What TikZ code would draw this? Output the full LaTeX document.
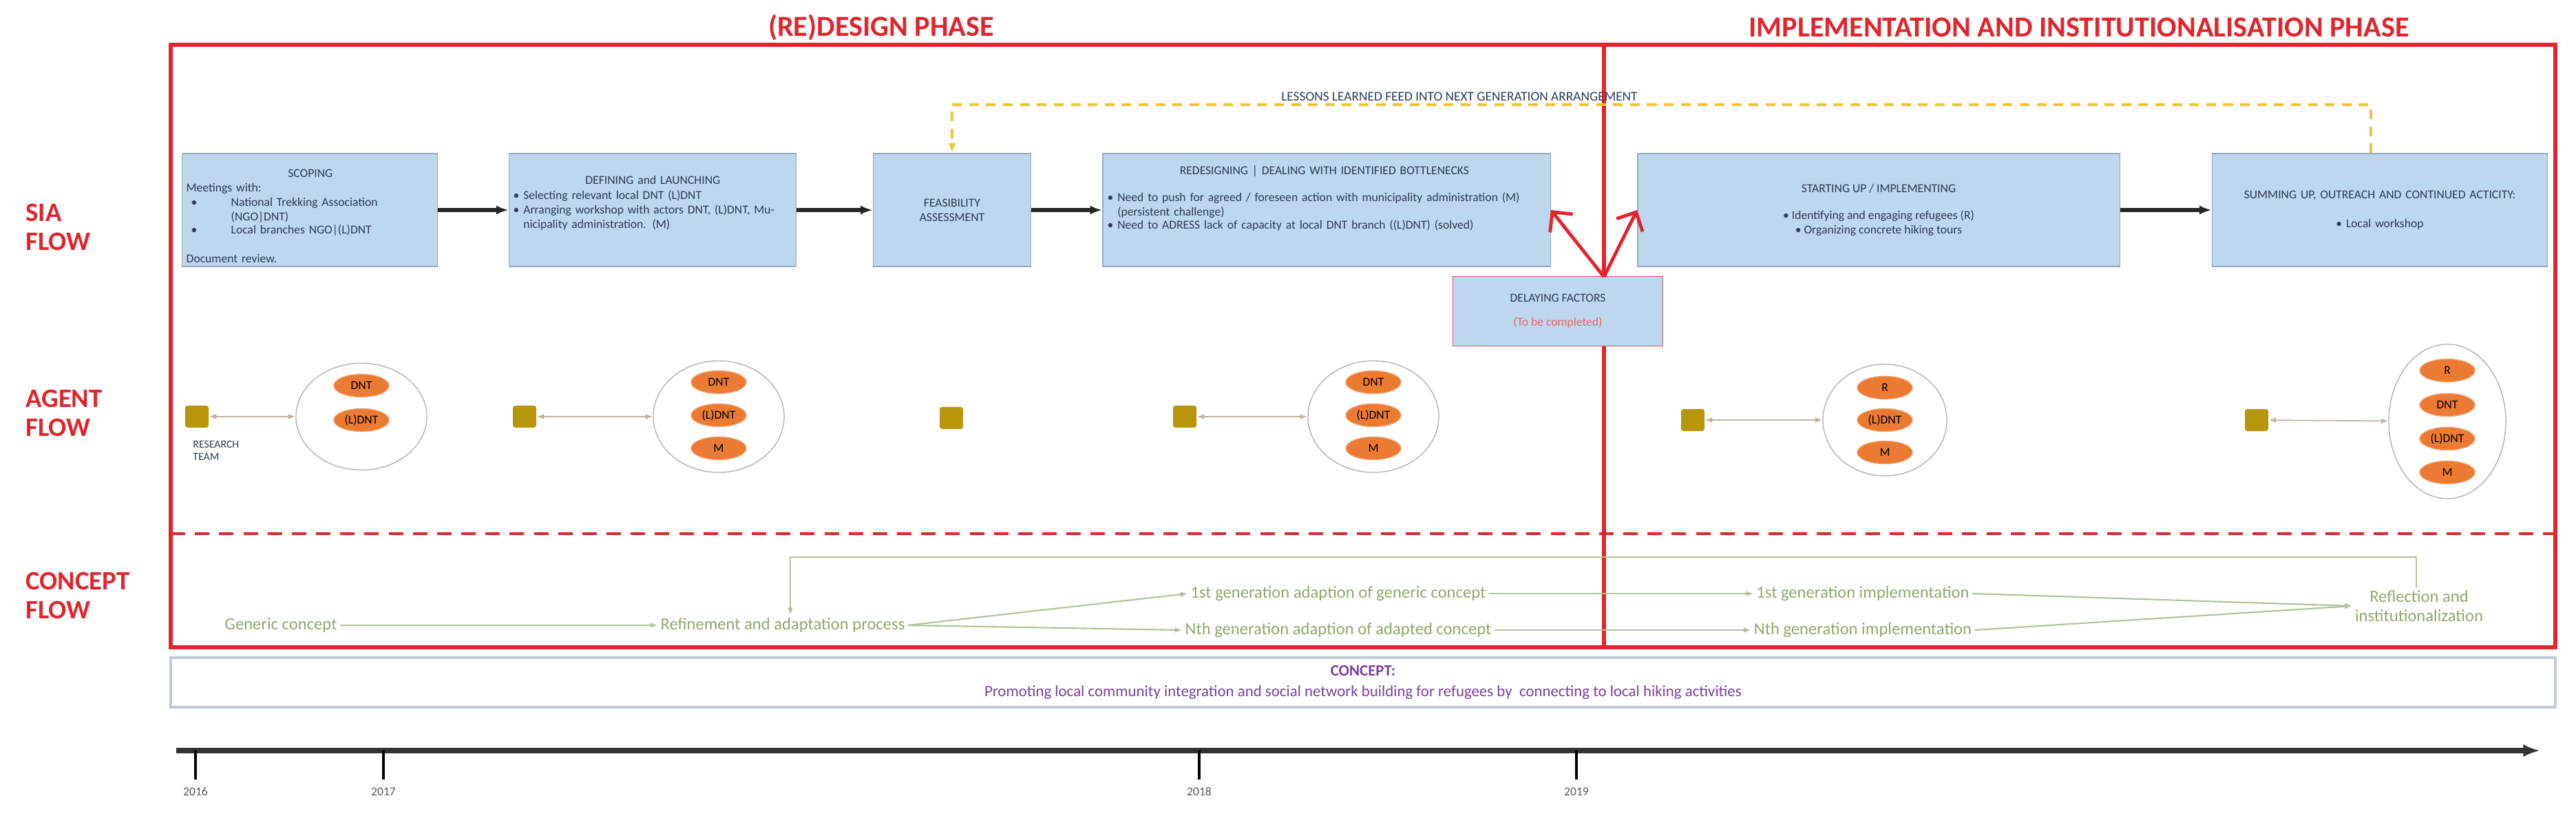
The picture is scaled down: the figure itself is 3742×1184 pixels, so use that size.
\documentclass[tikz,border=0pt]{standalone}
\usepackage{fontspec}
\setmainfont{Carlito}
\usetikzlibrary{arrows.meta,shapes.geometric}
\definecolor{boxfill}{HTML}{BDD7EE}
\definecolor{boxdraw}{HTML}{95A9C2}
\definecolor{boxtext}{HTML}{2E3B55}
\definecolor{phasered}{HTML}{E0252C}
\definecolor{cgreen}{HTML}{8FA86A}
\definecolor{orangeA}{HTML}{EB7A32}
\definecolor{sqcol}{HTML}{B8960C}
\definecolor{purp}{HTML}{7B3FA0}
\definecolor{yel}{HTML}{F2C230}
\tikzset{
  sia/.style={draw=boxdraw,fill=boxfill,text=boxtext,inner sep=0pt,font=\fontsize{5}{6}\selectfont},
  siatxt/.style={text=boxtext,inner sep=0pt,font=\fontsize{5}{6}\selectfont,anchor=north west,align=left},
  flowarr/.style={line width=1.6pt,-{Latex[length=5pt]},black!85},
  lbl/.style={text=phasered,font=\fontsize{11}{12}\selectfont\bfseries,align=left,anchor=west},
  phase/.style={text=phasered,font=\fontsize{12}{13}\selectfont\bfseries},
  big/.style={draw=gray!60,ellipse,inner sep=0pt},
  ag/.style={fill=orangeA,draw=orangeA!70!white,ellipse,minimum width=0.8cm,minimum height=0.33cm,inner sep=0pt,font=\fontsize{5}{6}\selectfont},
  sq/.style={fill=sqcol,rounded corners=1pt,minimum width=0.34cm,minimum height=0.32cm,inner sep=0pt},
  agarr/.style={draw=brown!40!gray!60,line width=0.5pt,{Latex[length=3pt]}-{Latex[length=3pt]}},
  ct/.style={text=cgreen,font=\fontsize{7}{8}\selectfont,inner sep=1pt},
  carr/.style={draw=cgreen!70,line width=0.6pt,-{Latex[length=3pt]}},
}
\begin{document}
\begin{tikzpicture}[x=0.01cm,y=-0.01cm]
\useasboundingbox (0,0) rectangle (3742,1184);
% phase frames
\draw[phasered,line width=1.6pt] (248,65) rectangle (2330,940);
\draw[phasered,line width=1.6pt] (2330,65) rectangle (3712,940);
\draw[phasered,line width=1.2pt,dash pattern=on 6pt off 4pt] (248,775) -- (3712,775);
\node[phase] (t1) at (1280,40) {(RE)DESIGN PHASE};
\node[phase] (t2) at (3020,40) {IMPLEMENTATION AND INSTITUTIONALISATION PHASE};
% row labels
\node[lbl] (l1) at (25,330) {SIA\\FLOW};
\node[lbl] (l2) at (25,600) {AGENT\\FLOW};
\node[lbl] (l3) at (25,865) {CONCEPT\\FLOW};
% SIA boxes
\node[sia,minimum width=3.71cm,minimum height=1.64cm] (b1) at (450,305) {};
\node[siatxt,text width=3.6cm] at (270,245) {\centering SCOPING\par\raggedright Meetings with:\par
\hspace*{2pt}\textbullet\hspace{14pt}\parbox[t]{2.8cm}{National Trekking Association (NGO|DNT)}\par
\hspace*{2pt}\textbullet\hspace{14pt}\parbox[t]{2.8cm}{Local branches NGO|(L)DNT}\par\vspace{6pt}
Document review.};
\node[sia,minimum width=4.17cm,minimum height=1.64cm] (b2) at (948,305) {};
\node[siatxt,text width=4.05cm] at (745,255) {\centering DEFINING and LAUNCHING\par\raggedright
\textbullet\ Selecting relevant local DNT (L)DNT\par
\textbullet\ \parbox[t]{3.7cm}{Arranging workshop with actors DNT, (L)DNT, Municipality administration. (M)}};
\node[sia,minimum width=2.29cm,minimum height=1.64cm,align=center] (b3) at (1383,305) {FEASIBILITY\\ASSESSMENT};
\node[sia,minimum width=6.5cm,minimum height=1.64cm] (b4) at (1927,305) {};
\node[siatxt,text width=6.3cm] at (1608,240) {\centering REDESIGNING | DEALING WITH IDENTIFIED BOTTLENECKS\par\vspace{5pt}\raggedright
\textbullet\ \parbox[t]{6cm}{Need to push for agreed / foreseen action with municipality administration (M) (persistent challenge)}\par
\textbullet\ \parbox[t]{6cm}{Need to ADRESS lack of capacity at local DNT branch ((L)DNT) (solved)}};
\node[sia,minimum width=7cm,minimum height=1.64cm,align=center] (b5) at (2729,305) {STARTING UP / IMPLEMENTING\\[5pt]\textbullet\ Identifying and engaging refugees (R)\\\textbullet\ Organizing concrete hiking tours};
\node[sia,minimum width=4.87cm,minimum height=1.64cm,align=center,text width=4.7cm] (b6) at (3457,305) {SUMMING UP, OUTREACH AND CONTINUED ACTICITY:\\[6pt]\textbullet\ Local workshop};
\draw[flowarr] (b1) -- (b2);
\draw[flowarr] (b2) -- (b3);
\draw[flowarr] (b3) -- (b4);
\draw[flowarr] (b5) -- (b6);
% delaying
\node[sia,draw=phasered!60!boxdraw,minimum width=3.05cm,minimum height=1.01cm,align=center] (d) at (2263,452) {DELAYING FACTORS\\[4pt]{\color{phasered!70}(To be completed)}};
\coordinate (dt) at (2330,402);
\draw[phasered,line width=1.4pt,-{Straight Barb[length=6pt]}] (dt) -- (b4.east);
\draw[phasered,line width=1.4pt,-{Straight Barb[length=6pt]}] (dt) -- (b5.west);
% lessons learned
\coordinate (y1) at (1383,152);
\coordinate (y2) at (3444,152);
\draw[yel,line width=1pt,dash pattern=on 4pt off 3pt,-{Latex[length=4pt]}] (b6.north -| y2) -- (y2) -- (y1) -- (b3.north);
\node[text=boxtext,font=\fontsize{5.5}{6}\selectfont] (ll) at (2120,140) {LESSONS LEARNED FEED INTO NEXT GENERATION ARRANGEMENT};
% agents
\node[sq] (s1) at (286,605) {};
\node[text=boxtext,font=\fontsize{4.5}{5}\selectfont,align=left,anchor=north west] (rt) at (268,628) {RESEARCH\\TEAM};
\node[big,minimum width=1.9cm,minimum height=1.55cm] (e1) at (525,605) {};
\node[ag] (e1a) at (525,560) {DNT};
\node[ag] (e1b) at (525,610) {(L)DNT};
\draw[agarr] (s1) -- (e1);

\node[sq] (s2) at (762,605) {};
\node[big,minimum width=1.9cm,minimum height=1.62cm] (e2) at (1044,605) {};
\node[ag] (e2a) at (1044,555) {DNT};
\node[ag] (e2b) at (1044,603) {(L)DNT};
\node[ag] (e2c) at (1044,651) {M};
\draw[agarr] (s2) -- (e2);

\node[sq] (s3) at (1382,607) {};

\node[sq] (s4) at (1721,605) {};
\node[big,minimum width=1.9cm,minimum height=1.62cm] (e4) at (1995,605) {};
\node[ag] (e4a) at (1995,555) {DNT};
\node[ag] (e4b) at (1995,603) {(L)DNT};
\node[ag] (e4c) at (1995,651) {M};
\draw[agarr] (s4) -- (e4);

\node[sq] (s5) at (2459,610) {};
\node[big,minimum width=1.8cm,minimum height=1.62cm] (e5) at (2738,610) {};
\node[ag] (e5a) at (2738,563) {R};
\node[ag] (e5b) at (2738,610) {(L)DNT};
\node[ag] (e5c) at (2738,657) {M};
\draw[agarr] (s5) -- (e5);

\node[sq] (s6) at (3278,610) {};
\node[big,minimum width=1.7cm,minimum height=2.24cm] (e6) at (3555,612) {};
\node[ag] (e6a) at (3555,538) {R};
\node[ag] (e6b) at (3555,588) {DNT};
\node[ag] (e6c) at (3555,637) {(L)DNT};
\node[ag] (e6d) at (3555,686) {M};
\draw[agarr] (s6) -- (e6);
% concept flow
\node[ct] (c1) at (408,908) {Generic concept};
\node[ct] (c2) at (1137,908) {Refinement and adaptation process};
\node[ct] (c3) at (1944,862) {1st generation adaption of generic concept};
\node[ct] (c4) at (1944,915) {Nth generation adaption of adapted concept};
\node[ct] (c5) at (2706,862) {1st generation implementation};
\node[ct] (c6) at (2706,915) {Nth generation implementation};
\node[ct,align=center] (c7) at (3514,880) {Reflection and\\institutionalization};
\draw[carr] (c1) -- (c2);
\draw[carr] (c2.east) -- (c3.west);
\draw[carr] (c2.east) -- (c4.west);
\draw[carr] (c3) -- (c5);
\draw[carr] (c4) -- (c6);
\draw[carr] (c5.east) -- (c7.west);
\draw[carr] (c6.east) -- (c7.west);
\coordinate (f1) at (3510,809);
\coordinate (f2) at (1148,809);
\draw[carr] (c7.north -| f1) -- (f1) -- (f2) -- (c2.north -| f2);
% concept box
\node[draw=boxdraw!60,line width=1pt,minimum width=34.62cm,minimum height=0.72cm,align=center,font=\fontsize{6.5}{7.5}\selectfont,text=purp] (cb) at (1980,991) {\textbf{CONCEPT:}\\[1pt]Promoting local community integration and social network building for refugees by\ \ connecting to local hiking activities};
% timeline
\coordinate (ts) at (256,1090);
\coordinate (te) at (3690,1090);
\draw[line width=2.4pt,black!80,-{Latex[length=7pt]}] (ts) -- (te);
\foreach \xx/\yy in {284/2016,557/2017,1742/2018,2290/2019}{
  \coordinate (k\yy) at (\xx,1090);
  \draw[line width=1pt] (k\yy) -- ++(0,42);
  \node[font=\fontsize{5}{6}\selectfont,text=gray!70!black] (n\yy) at (\xx,1150) {\yy};
}
\end{tikzpicture}
\end{document}
